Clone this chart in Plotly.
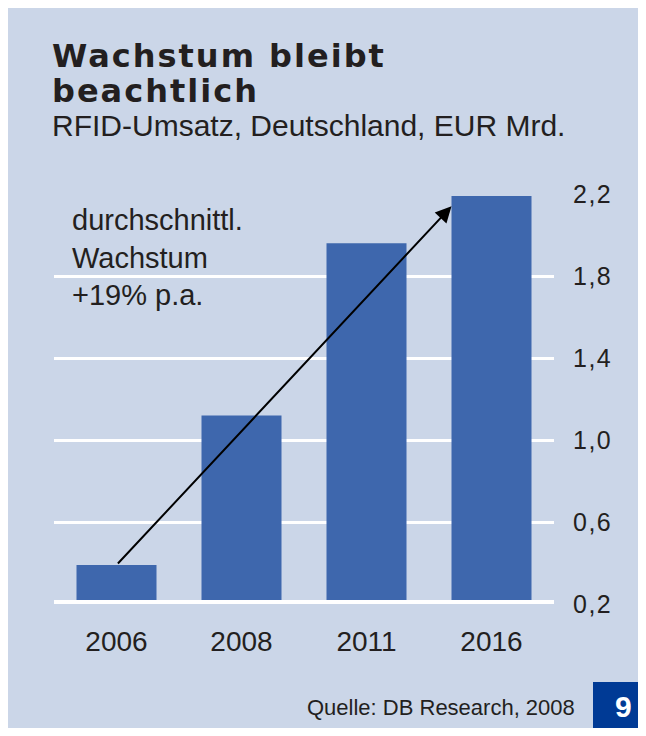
import plotly.graph_objects as go

years = ["2006", "2008", "2011", "2016"]
umsatz = [0.39, 1.12, 1.96, 2.19]
y_ticks = [0.2, 0.6, 1.0, 1.4, 1.8, 2.2]
y_tick_labels = ["0,2", "0,6", "1,0", "1,4", "1,8", "2,2"]
title_lines = ["Wachstum bleibt", "beachtlich"]
subtitle = "RFID-Umsatz, Deutschland, EUR Mrd."
note = "durchschnittl.<br>Wachstum<br>+19% p.a."
source = "Quelle: DB Research, 2008"
page_no = "9"

PANEL = "#cbd6e8"
BAR = "#3e67ad"
DARK = "#231f20"

OFF = 8  # page body margin
W, H = 646 - OFF, 736 - 2 * OFF
L, R, T = 54 - OFF, 646 - 554, 194 - OFF
B = (H + OFF) - 604
PH = H - T - B
PW = W - L - R


def px(x):
    # x given in reference (window) pixels
    return (x - OFF - L) / PW


def py(y):
    return (H - B - (y - OFF)) / PH


fig = go.Figure()
fig.add_trace(go.Bar(x=years, y=umsatz, marker=dict(color=BAR, line=dict(width=0)),
                     hoverinfo="skip"))

shapes = [
    dict(type="line", xref="x", yref="y", x0=-0.56, x1=3.5, y0=0.2, y1=0.2,
         line=dict(color="white", width=8), layer="above"),
    dict(type="rect", xref="paper", yref="paper", x0=px(593), x1=px(660), y0=py(750), y1=py(682),
         fillcolor="#003a95", line=dict(width=0), layer="above"),
]

ls_title = "<b><span style='letter-spacing:2px'>%s</span></b>"
annotations = [
    dict(xref="paper", yref="paper", x=px(50), y=py(56), xanchor="left", yanchor="middle",
         text=ls_title % title_lines[0], showarrow=False,
         font=dict(family="DejaVu Sans", size=32, color=DARK)),
    dict(xref="paper", yref="paper", x=px(50), y=py(91), xanchor="left", yanchor="middle",
         text=ls_title % title_lines[1], showarrow=False,
         font=dict(family="DejaVu Sans", size=32, color=DARK)),
    dict(xref="paper", yref="paper", x=px(50), y=py(125), xanchor="left", yanchor="middle",
         text=subtitle, showarrow=False,
         font=dict(family="Liberation Sans", size=30, color=DARK)),
    dict(xref="paper", yref="paper", x=px(70), y=py(257), xanchor="left", yanchor="middle",
         text=note, showarrow=False, align="left",
         font=dict(family="Liberation Sans", size=29, color=DARK)),
    dict(xref="paper", yref="paper", x=px(577), y=py(707), xanchor="right", yanchor="middle",
         text=source, showarrow=False,
         font=dict(family="Liberation Sans", size=22, color=DARK)),
    dict(xref="paper", yref="paper", x=px(623), y=py(706), xanchor="center", yanchor="middle",
         text="<b>" + page_no + "</b>", showarrow=False,
         font=dict(family="Liberation Sans", size=30, color="white")),
    dict(xref="x", yref="y", axref="x", ayref="y", x=2.68, y=2.14, ax=0, ay=umsatz[0],
         text="", showarrow=True, arrowhead=2, arrowsize=1.6, arrowwidth=2, arrowcolor="black",
         standoff=0, startstandoff=0),
]

fig.update_layout(
    width=W, height=H,
    margin=dict(l=L, r=R, t=T, b=B, pad=0),
    paper_bgcolor=PANEL, plot_bgcolor="rgba(0,0,0,0)",
    showlegend=False,
    bargap=0.36,
    shapes=shapes,
    annotations=annotations,
    xaxis=dict(type="category", range=[-0.5, 3.5], showgrid=False, zeroline=False, showline=False,
               ticks="", ticklabelstandoff=18,
               tickfont=dict(family="Liberation Sans", size=28, color=DARK)),
    yaxis=dict(range=[0.2, 2.2], side="right", tickvals=y_ticks,
               ticktext=["<span style='letter-spacing:1.5px'>%s</span>" % t for t in y_tick_labels],
               showgrid=True, gridcolor="white", gridwidth=3, zeroline=False, showline=False,
               ticks="", ticklabelstandoff=18,
               tickfont=dict(family="Liberation Sans", size=25, color=DARK)),
)

fig.write_html("out.html")
